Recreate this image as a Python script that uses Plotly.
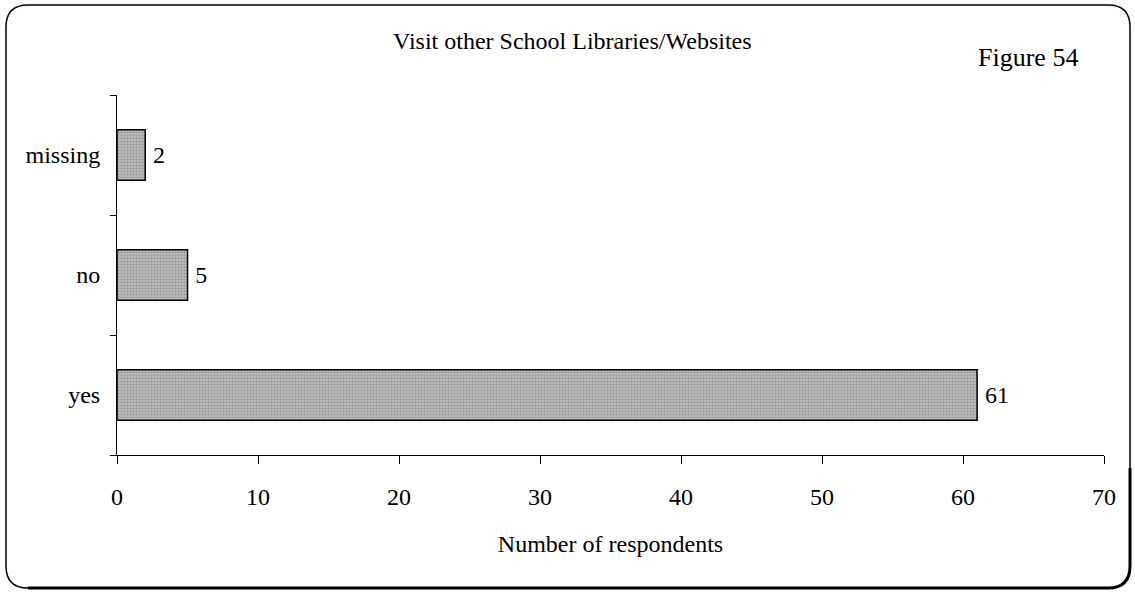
import plotly.graph_objects as go

categories = ["yes", "no", "missing"]
values = [61, 5, 2]
x_ticks = [0, 10, 20, 30, 40, 50, 60, 70]

W, H = 1135, 593
L, R, T, B = 117, 31, 95, 138
pw, ph = W - L - R, H - T - B
FONT = "Liberation Serif"

def px(xp):
    return (xp - L) / pw

def py(yp):
    return (H - B - yp) / ph

fig = go.Figure()
fig.add_trace(go.Bar(
    y=categories, x=values, orientation="h",
    marker=dict(color="#b0b0b0", line=dict(color="black", width=1.5),
                pattern=dict(shape=".", fgcolor="#6a6a6a", bgcolor="#bebebe", size=3, solidity=0.4)),
    text=[str(v) for v in values], texttemplate="\u2009%{text}", textposition="outside",
    textfont=dict(family=FONT, size=24, color="black"),
    cliponaxis=False, width=0.42,
))

# rounded border in pixel coords converted to paper coords
x0, y0, x1, y1, r = 6, 5, 1130, 588, 22
pts = [
    f"M {px(x0+r)},{py(y0)}",
    f"L {px(x1-r)},{py(y0)}",
    f"Q {px(x1)},{py(y0)} {px(x1)},{py(y0+r)}",
    f"L {px(x1)},{py(y1-r)}",
    f"Q {px(x1)},{py(y1)} {px(x1-r)},{py(y1)}",
    f"L {px(x0+r)},{py(y1)}",
    f"Q {px(x0)},{py(y1)} {px(x0)},{py(y1-r)}",
    f"L {px(x0)},{py(y0+r)}",
    f"Q {px(x0)},{py(y0)} {px(x0+r)},{py(y0)} Z",
]
fig.add_shape(type="path", path=" ".join(pts), xref="paper", yref="paper",
              line=dict(color="black", width=1.5), layer="below")
# thicker lower/right shadow edge
shadow = [
    f"M {px(x1)},{py(y1-120)}",
    f"L {px(x1)},{py(y1-r)}",
    f"Q {px(x1)},{py(y1)} {px(x1-r)},{py(y1)}",
    f"L {px(x0+r)},{py(y1)}",
]
fig.add_shape(type="path", path=" ".join(shadow), xref="paper", yref="paper",
              line=dict(color="black", width=3), layer="below")

fig.add_annotation(text="Visit other School Libraries/Websites", x=px(572), y=py(41),
                   xref="paper", yref="paper", showarrow=False,
                   xanchor="center", yanchor="middle",
                   font=dict(family=FONT, size=24, color="black"))
fig.add_annotation(text="Figure 54", x=px(1028), y=py(58),
                   xref="paper", yref="paper", showarrow=False,
                   xanchor="center", yanchor="middle",
                   font=dict(family=FONT, size=26, color="black"))

fig.update_layout(
    width=W, height=H, margin=dict(l=L, r=R, t=T, b=B),
    paper_bgcolor="white", plot_bgcolor="white", showlegend=False,
    font=dict(family=FONT, size=24, color="black"),
    xaxis=dict(range=[0, 70], tickvals=x_ticks, ticks="outside", ticklen=8,
               tickcolor="black", showline=True, linecolor="black", linewidth=1,
               showgrid=False, zeroline=False, ticklabelstandoff=12,
               title=dict(text="Number of respondents", standoff=26,
                          font=dict(family=FONT, size=24)),
               tickfont=dict(family=FONT, size=24)),
    yaxis=dict(showline=True, linecolor="black", linewidth=1, showgrid=False,
               ticks="outside", ticklen=6, tickcolor="black", tickson="boundaries",
               ticklabelstandoff=11,
               tickfont=dict(family=FONT, size=24)),
)

fig.write_html("out.html", config={"displayModeBar": False},
               post_script="document.body.style.margin='0';document.body.style.padding='0';document.body.style.overflow='hidden';")
